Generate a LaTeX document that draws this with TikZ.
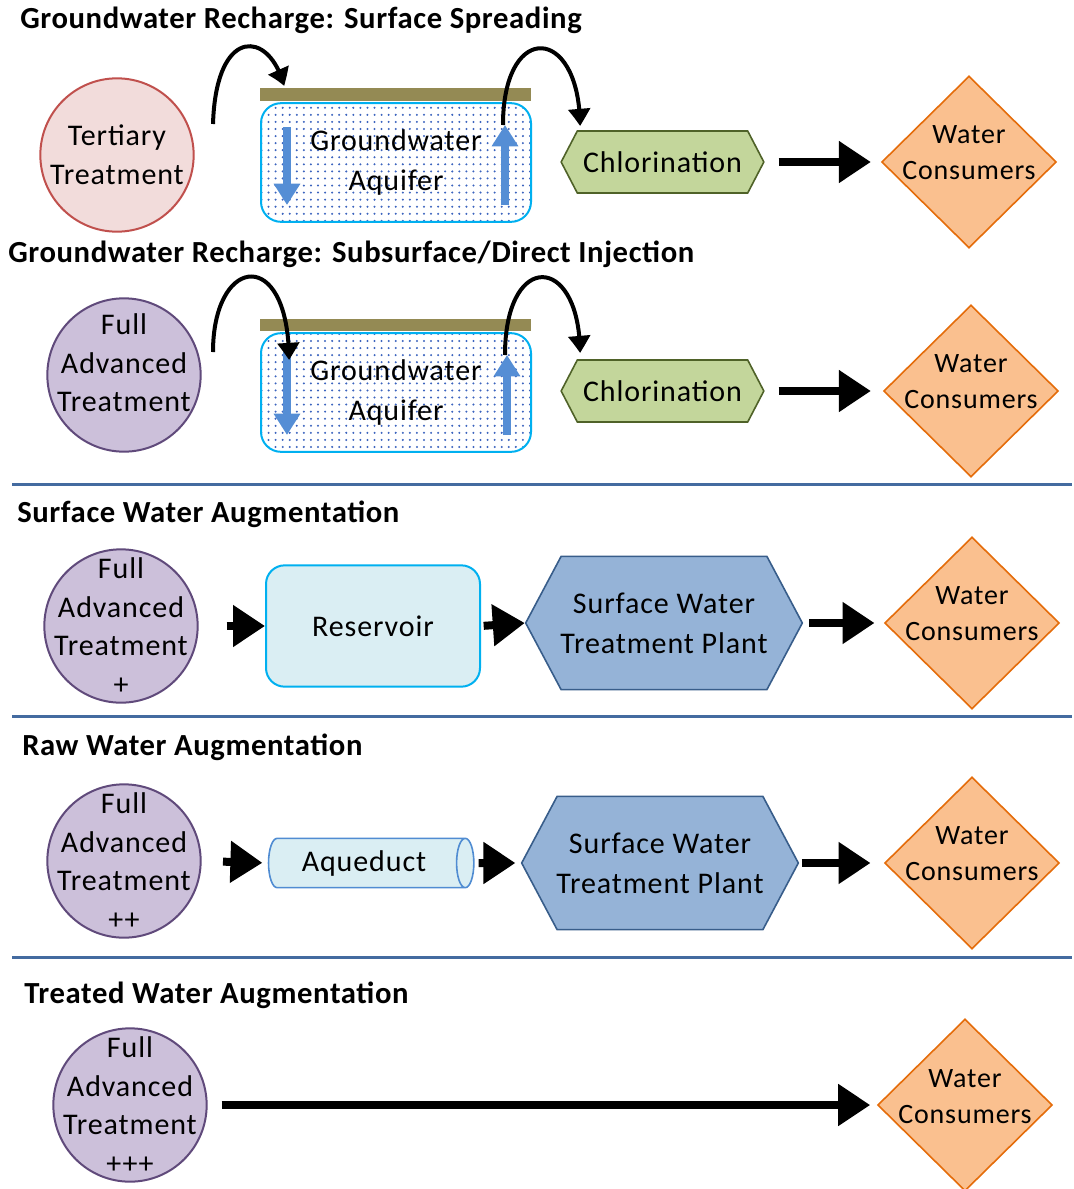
\documentclass[tikz,border=0pt]{standalone}
\usepackage{fontspec}
\setmainfont{Carlito}
\newfontfamily\bodyfont{Carlito}[LetterSpace=3]
\newfontfamily\headfont{Carlito}[LetterSpace=2]
\usetikzlibrary{shapes.geometric, shapes.symbols, arrows.meta, bending, positioning, patterns.meta}
\definecolor{tertfill}{RGB}{242,220,219}
\definecolor{tertedge}{RGB}{192,80,77}
\definecolor{fullfill}{RGB}{204,192,218}
\definecolor{fulledge}{RGB}{96,74,123}
\definecolor{chlorfill}{RGB}{195,214,155}
\definecolor{chloredge}{RGB}{79,98,40}
\definecolor{consfill}{RGB}{250,192,143}
\definecolor{consedge}{RGB}{228,108,10}
\definecolor{resfill}{RGB}{218,238,243}
\definecolor{resedge}{RGB}{0,176,240}
\definecolor{ductedge}{RGB}{80,140,210}
\definecolor{plantfill}{RGB}{149,179,215}
\definecolor{plantedge}{RGB}{56,93,138}
\definecolor{soil}{RGB}{148,138,84}
\definecolor{flowblue}{RGB}{85,142,213}
\definecolor{sepblue}{RGB}{68,107,160}
\definecolor{dotblue}{RGB}{60,100,190}

\begin{document}
\begin{tikzpicture}[x=0.75pt, y=-0.75pt,
  every node/.style={font=\bodyfont\fontsize{22.5}{30}\selectfont, align=center},
  heading/.style={anchor=base west, inner sep=0pt, font=\headfont\bfseries\fontsize{23}{26}\selectfont},
  treat/.style={circle, draw=#1edge, fill=#1fill, line width=1.5pt,
                minimum size=115pt, inner sep=-25pt,
                font=\bodyfont\fontsize{22.5}{29}\selectfont},
  treattext/.style={inner sep=0pt, font=\bodyfont\fontsize{22.5}{29}\selectfont},
  consumer/.style={diamond, draw=consedge, fill=consfill, line width=1.2pt,
                   minimum width=131pt, minimum height=129pt, inner sep=0pt},
  constext/.style={inner sep=0pt, font=\bodyfont\fontsize{21}{27}\selectfont},
  chlor/.style={signal, signal to=west and east, signal pointer angle=125,
                draw=chloredge, fill=chlorfill, line width=1.2pt,
                minimum width=152pt, minimum height=46.5pt, inner sep=2pt},
  swtp/.style={signal, signal to=west and east, signal pointer angle=124,
               draw=plantedge, fill=plantfill, line width=1.2pt,
               minimum width=203pt, minimum height=100pt, inner xsep=-0.5pt, inner ysep=2pt},
  aquifer/.style={rectangle, rounded corners=15pt, draw=resedge, line width=1.5pt,
                  pattern={Dots[distance=5.3pt, radius=0.85pt]}, pattern color=dotblue,
                  minimum width=202.5pt, minimum height=89pt},
  soilbar/.style={rectangle, fill=soil, minimum width=203pt, minimum height=9.5pt, inner sep=0pt},
  fatarr/.style={line width=6pt, -{Triangle[length=24pt, width=30pt]}},
  curvarr/.style={line width=3pt, -{Triangle[length=13pt, width=16pt, bend]}},
  flow/.style={line width=6pt, draw=flowblue, -{Triangle[length=16pt, width=19pt]}},
  sepline/.style={line width=2.25pt, draw=sepblue}
]
\useasboundingbox (0,0) rectangle (1074,1189);

% --- Groundwater Recharge: Surface Spreading
\node[heading] (h1) at (20,28) {Groundwater Recharge: Surface Spreading};
\node[treat=tert] (tert1) at (117,155) {Tertiary\\Treatment};
\node[soilbar] (bar1) at (395.5,94.5) {};
\node[aquifer] (aquif1) at (396,162.5) {Groundwater\\Aquifer};
\node[chlor] (chlor1) at (662.5,162) {Chlorination};
\node[consumer] (cons1) at (969,162) {};
\node[constext] (cons1t) at ([yshift=7pt]cons1) {Water\\Consumers};
\coordinate (dn1a) at (287,127);
\coordinate (dn1b) at (287,205);
\coordinate (up1a) at (505,205);
\coordinate (up1b) at (505,125);
\coordinate (in1) at (213,124);
\coordinate (in1b) at (284,86);
\coordinate (out1) at (503,125);
\coordinate (out1b) at (580,126);
\draw[flow] (dn1a) -- (dn1b);
\draw[flow] (up1a) -- (up1b);
\draw[curvarr] (in1) .. controls (216,25) and (270,30) .. (in1b);
\draw[curvarr] (out1) .. controls (503,20) and (580,25) .. (out1b);
\draw[fatarr, shorten <=10.5pt, shorten >=7.5pt] (chlor1.east) -- (cons1.west);

% --- Groundwater Recharge: Subsurface/Direct Injection
\node[heading] (h2) at (8,262) {Groundwater Recharge: Subsurface/Direct Injection};
\node[treat=full] (full2) at (124,375) {};
\node[treattext] (full2t) at ([yshift=9pt]full2) {Full\\Advanced\\Treatment};
\node[soilbar] (bar2) at (395.5,325) {};
\node[aquifer] (aquif2) at (396,392.5) {Groundwater\\Aquifer};
\node[chlor] (chlor2) at (662.5,391) {Chlorination};
\node[consumer] (cons2) at (971,391) {};
\node[constext] (cons2t) at ([yshift=7pt]cons2) {Water\\Consumers};
\coordinate (dn2a) at (287,352);
\coordinate (dn2b) at (287,435);
\coordinate (up2a) at (507,435);
\coordinate (up2b) at (507,355);
\coordinate (in2) at (213,352);
\coordinate (in2b) at (289,360);
\coordinate (out2) at (505,355);
\coordinate (out2b) at (580,353);
\draw[flow] (dn2a) -- (dn2b);
\draw[flow] (up2a) -- (up2b);
\draw[curvarr] (in2) .. controls (213,255) and (289,245) .. (in2b);
\draw[curvarr] (out2) .. controls (505,250) and (580,253) .. (out2b);
\draw[fatarr, shorten <=10.5pt, shorten >=9pt] (chlor2.east) -- (cons2.west);

\draw[sepline] (12,484) -- (1072,484);

% --- Surface Water Augmentation
\node[heading] (h3) at (17,522) {Surface Water Augmentation};
\node[treat=full] (full3) at (121,626) {Full\\Advanced\\Treatment\\+};
\node[rectangle, rounded corners=14pt, draw=resedge, fill=resfill, line width=1.5pt,
      minimum width=160.5pt, minimum height=91pt] (res3) at (373,626) {Reservoir};
\node[swtp] (swtp3) at (664,623) {Surface Water\\Treatment Plant};
\node[consumer] (cons3) at (972,623) {};
\node[constext] (cons3t) at ([yshift=7pt]cons3) {Water\\Consumers};
\draw[fatarr, shorten <=21pt] (full3.east) -- (res3.west);
\draw[fatarr, shorten <=2pt] (res3.east) -- (swtp3.west);
\draw[fatarr, shorten <=4.5pt, shorten >=7pt] (swtp3.east) -- (cons3.west);

\draw[sepline] (12,716) -- (1072,716);

% --- Raw Water Augmentation
\node[heading] (h4) at (22,755) {Raw Water Augmentation};
\node[treat=full] (full4) at (124,861) {Full\\Advanced\\Treatment\\++};
\node[cylinder, draw=ductedge, fill=resfill, line width=1.2pt, aspect=0.5,
      minimum width=37pt, minimum height=154pt] (duct4) at (364,863) {Aqueduct};
\node[swtp] (swtp4) at (660,863) {Surface Water\\Treatment Plant};
\node[consumer] (cons4) at (972,863) {};
\node[constext] (cons4t) at ([yshift=7pt]cons4) {Water\\Consumers};
\draw[fatarr, shorten <=16pt, shorten >=4pt] (full4.east) -- (duct4.west);
\draw[fatarr, shorten <=3pt, shorten >=4pt] (duct4.east) -- (swtp4.west);
\draw[fatarr, shorten <=2pt, shorten >=10pt] (swtp4.east) -- (cons4.west);

\draw[sepline] (12,957) -- (1072,957);

% --- Treated Water Augmentation
\node[heading] (h5) at (24,1003) {Treated Water Augmentation};
\node[treat=full] (full5) at (130,1105) {Full\\Advanced\\Treatment\\+++};
\node[consumer] (cons5) at (965,1105) {};
\node[constext] (cons5t) at ([yshift=6pt]cons5) {Water\\Consumers};
\draw[fatarr, shorten <=10.5pt, shorten >=5pt] (full5.east) -- (cons5.west);
\end{tikzpicture}
\end{document}
